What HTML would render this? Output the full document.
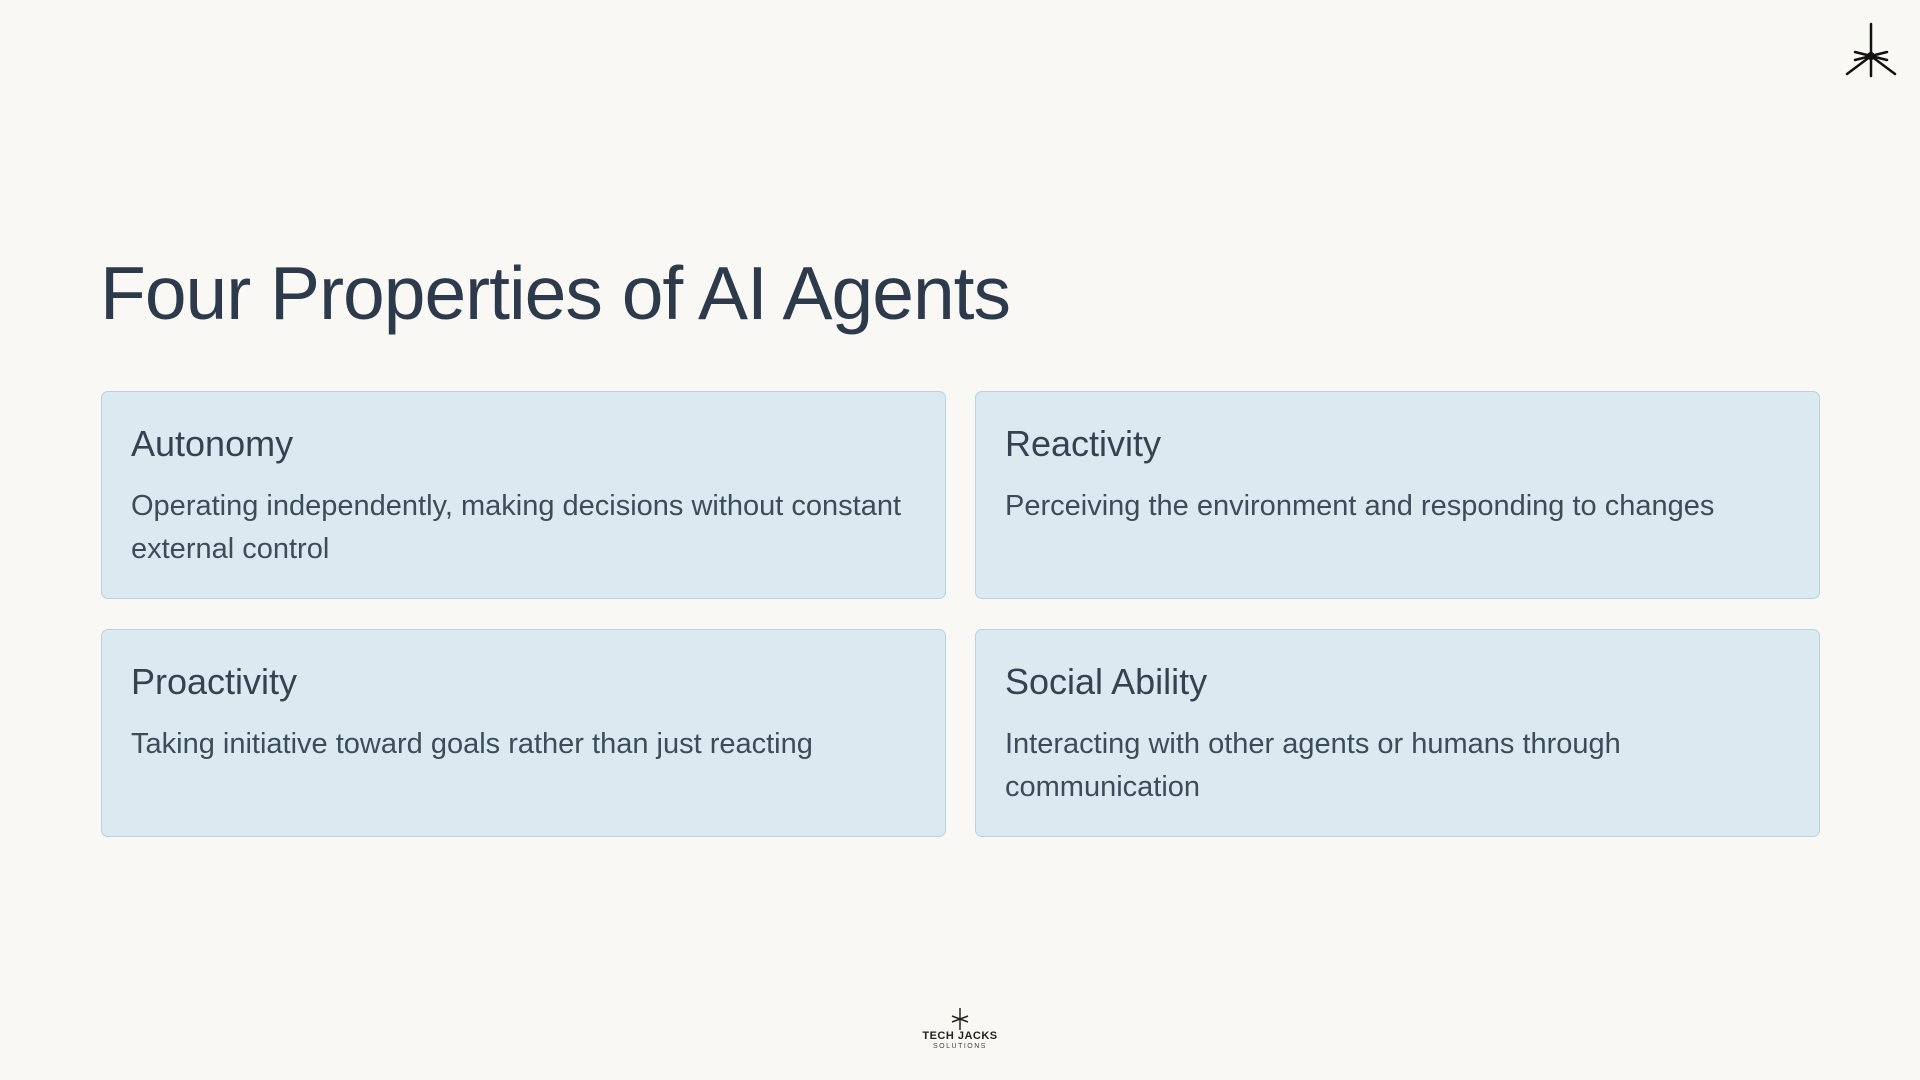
<!DOCTYPE html>
<html><head><meta charset="utf-8"><style>
html,body{margin:0;padding:0}
body{width:1920px;height:1080px;background:#f9f8f4;position:relative;overflow:hidden;font-family:"Liberation Sans",sans-serif;color:#2c3a4a}
h1{position:absolute;left:100px;top:250px;margin:0;font-size:75px;font-weight:500;letter-spacing:-1px;color:#2c3a4b}
.card{position:absolute;width:845px;height:208px;background:#dbeaf1;border:1.5px solid #b8d2de;border-radius:7px;box-sizing:border-box}
.card h2{position:absolute;left:29px;top:31px;margin:0;font-size:36px;font-weight:500;color:#34434f}
.card p{position:absolute;left:29px;top:93px;margin:0;width:800px;font-size:29px;line-height:43px;color:#3d4d58}
.ft{position:absolute;left:0;width:1920px;text-align:center}
</style></head><body>
<svg style="position:absolute;left:1843px;top:22px" width="56" height="56" viewBox="0 0 56 56">
<g stroke="#111" stroke-width="2.5" stroke-linecap="round" fill="none">
<line x1="28" y1="2" x2="28" y2="54"/><line x1="4" y1="52" x2="28" y2="34"/><line x1="52" y1="52" x2="28" y2="34"/>
<line x1="12" y1="30" x2="44" y2="38"/><line x1="44" y1="30" x2="12" y2="38"/></g>
<circle cx="28" cy="34" r="4" fill="#111"/></svg>
<h1>Four Properties of AI Agents</h1>
<div class="card" style="left:101px;top:391px"><h2>Autonomy</h2><p>Operating independently, making decisions without constant external control</p></div>
<div class="card" style="left:975px;top:391px"><h2>Reactivity</h2><p>Perceiving the environment and responding to changes</p></div>
<div class="card" style="left:101px;top:629px"><h2>Proactivity</h2><p>Taking initiative toward goals rather than just reacting</p></div>
<div class="card" style="left:975px;top:629px"><h2>Social Ability</h2><p>Interacting with other agents or humans through communication</p></div>
<svg style="position:absolute;left:950px;top:1008px" width="20" height="22" viewBox="0 0 20 22">
<g stroke="#222" stroke-width="1.5"><line x1="10" y1="0" x2="10" y2="22"/><line x1="2" y1="8" x2="18" y2="14"/><line x1="18" y1="8" x2="2" y2="14"/></g></svg>
<div class="ft" style="top:1030px;font-size:11px;font-weight:bold;color:#222;letter-spacing:0.5px">TECH JACKS</div>
<div class="ft" style="top:1043px;font-size:7px;color:#444;letter-spacing:1.5px">SOLUTIONS</div>
</body></html>
